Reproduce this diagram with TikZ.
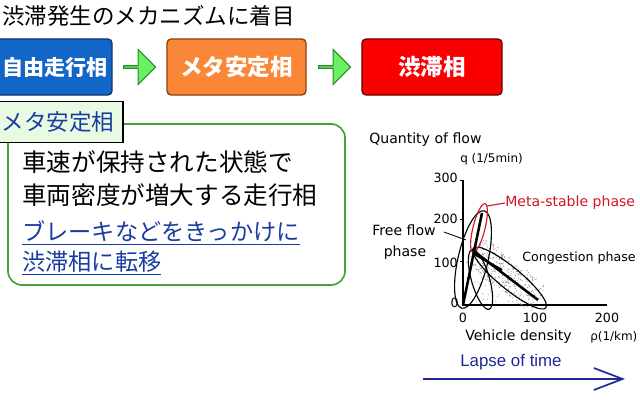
\documentclass[tikz,border=0pt]{standalone}
\usepackage{fontspec}
\newfontfamily\jp{Noto Sans CJK JP}
\newfontfamily\chartfont{DejaVu Sans}
\newfontfamily\lapsefont{Liberation Sans}
\usetikzlibrary{shapes.arrows,arrows.meta}
\definecolor{freeblue}{RGB}{18,102,200}
\definecolor{freeline}{RGB}{20,50,110}
\definecolor{metaorange}{RGB}{250,135,55}
\definecolor{metaline}{RGB}{140,65,20}
\definecolor{jamred}{RGB}{250,0,0}
\definecolor{jamline}{RGB}{110,0,0}
\definecolor{arrowgreen}{RGB}{105,240,100}
\definecolor{arrowline}{RGB}{40,140,40}
\definecolor{framegreen}{RGB}{70,160,60}
\definecolor{tabgreen}{RGB}{232,250,226}
\definecolor{textblue}{RGB}{25,60,160}
\definecolor{lapseblue}{RGB}{30,40,150}
\definecolor{chartred}{RGB}{210,20,40}
\begin{document}
\begin{tikzpicture}[x=0.025cm,y=-0.025cm,
    phasebox/.style 2 args={draw=#2, fill=#1, line width=1pt, rounded corners=3pt,
      minimum height=1.4cm, text=white, font=\jp\bfseries\fontsize{16}{18}\selectfont},
    flowarrow/.style={single arrow, draw=arrowline, fill=arrowgreen, line width=0.8pt,
      minimum height=0.8cm, minimum width=0.875cm, single arrow head extend=0.19cm,
      inner sep=0pt},
    bodytext/.style={anchor=west, inner sep=0pt, font=\jp\fontsize{17.5}{20}\selectfont},
    linktext/.style={anchor=west, inner sep=0pt, text=textblue, font=\jp\fontsize{16.5}{19}\selectfont},
    axislabel/.style={inner sep=0pt, font=\chartfont\fontsize{10}{12}\selectfont},
    unitlabel/.style={inner sep=0pt, font=\chartfont\fontsize{8.5}{10}\selectfont},
    ticklabel/.style={inner sep=0pt, font=\chartfont\fontsize{9}{11}\selectfont}]
    \useasboundingbox (0,0) rectangle (640,400);
    \clip (0,0) rectangle (640,400);
    \node[anchor=west, inner sep=0pt, font=\jp\fontsize{16}{18}\selectfont] (title) at (2,16) {渋滞発生のメカニズムに着目};
    \node[phasebox={freeblue}{freeline}, minimum width=3.3cm, text width=3.1cm, inner xsep=0.1cm,
      align=right, font=\jp\bfseries\fontsize{15}{17}\selectfont] (free) at (46,67) {自由走行相};
    \node[flowarrow] (arr1) at (139,67) {};
    \node[phasebox={metaorange}{metaline}, minimum width=3.475cm] (meta) at (236.5,67) {メタ安定相};
    \node[flowarrow] (arr2) at (334,67) {};
    \node[phasebox={jamred}{jamline}, minimum width=3.5cm] (jam) at (432,67) {渋滞相};
    \node[draw=framegreen, line width=1.2pt, rounded corners=10pt, minimum width=8.425cm, minimum height=4.025cm] (frame) at (176.5,204.5) {};
    \node[draw=black, line width=1.2pt, fill=tabgreen, minimum width=3.25cm, minimum height=1.025cm, text=textblue, font=\jp\fontsize{16}{18}\selectfont] (tab) at (58,122) {メタ安定相};
    \node[bodytext] (line1) at (22,162) {車速が保持された状態で};
    \node[bodytext] (line2) at (22,195) {車両密度が増大する走行相};
    \node[linktext] (line3) at (22,233) {\underline{ブレーキなどをきっかけに}};
    \node[linktext] (line4) at (22,263) {\underline{渋滞相に転移}};
    % chart
    \coordinate (O) at (463,305);
    \coordinate (ytop) at (463,180);
    \coordinate (xend) at (607,305);
    \draw[line width=0.8pt] (ytop) -- (O) -- (xend);
    \foreach \y in {180,219,261}
        \draw[line width=0.6pt] (460,\y) -- (463,\y);
    \node[ticklabel, anchor=east] (y300) at (458,178) {300};
    \node[ticklabel, anchor=east] (y200) at (458,219) {200};
    \node[ticklabel, anchor=east] (y100) at (458,263) {100};
    \node[ticklabel, anchor=east] (y0) at (459,303) {0};
    \node[ticklabel] (x0) at (463,318) {0};
    \node[ticklabel] (x100) at (535,318) {100};
    \node[ticklabel] (x200) at (607,318) {200};
    \node[axislabel, anchor=west] (qlabel) at (369,140) {Quantity of flow};
    \node[unitlabel, anchor=west] (qunit) at (460,159) {q (1/5min)};
    \node[axislabel, anchor=west] (rholabel) at (465,337) {Vehicle density};
    \node[unitlabel, anchor=west] (rhounit) at (590,337) {ρ(1/km)};
    \pgfmathsetseed{11}
    \foreach \i in {1,...,300}{
        \pgfmathsetmacro{\t}{rnd}
        \pgfmathsetmacro{\s}{rand}
        \fill[gray!85] ({475+65*\t+16*\s*0.61}, {250+50*\t-16*\s*0.79}) circle (0.6);
    }
    \foreach \i in {1,...,70}{
        \pgfmathsetmacro{\u}{rnd}
        \pgfmathsetmacro{\w}{rnd}
        \fill[gray!85] ({470+45*\u}, {262+42*\w}) circle (0.55);
    }
    \draw[line width=0.8pt, rotate around={77:(473,259.5)}] (473,259.5) ellipse [x radius=50, y radius=15];
    \draw[line width=0.8pt, rotate around={-39.4:(509.5,278)}] (509.5,278) ellipse [x radius=47, y radius=11];
    \draw[line width=0.8pt, rotate around={-74:(480.5,279.5)}] (480.5,279.5) ellipse [x radius=31, y radius=9];
    \draw[chartred, line width=0.8pt, rotate around={76:(479,228)}] (479,228) ellipse [x radius=25, y radius=6];
    \draw[line width=1.8pt] (463,305) -- (482,213);
    \draw[line width=1.8pt] (475,252) -- (538,300);
    \draw[line width=1.5pt] (474,254) -- (502,270);
    \node[axislabel, anchor=west, text=chartred] (metalabel) at (505,203) {Meta-stable phase};
    \draw[chartred, line width=0.8pt] (metalabel.west) -- (487,206);
    \node[axislabel] (freelabel) at (404,230) {Free flow};
    \node[axislabel] (freephase) at (405,253) {phase};
    \draw[line width=0.6pt] (freelabel.east) ++(8,2) -- (466,240);
    \node[axislabel, anchor=west, font=\chartfont\fontsize{9}{11}\selectfont] (conglabel) at (522,258) {Congestion phase};
    \node[inner sep=0pt, text=lapseblue, font=\lapsefont\fontsize{12}{14}\selectfont] (lapse) at (511,362) {Lapse of time};
    \coordinate (tstart) at (423,379);
    \coordinate (tend) at (625,379);
    \draw[lapseblue, line width=1.2pt, -{Straight Barb[length=0.72cm, width=0.55cm]}] (tstart) -- (tend);
\end{tikzpicture}
\end{document}
